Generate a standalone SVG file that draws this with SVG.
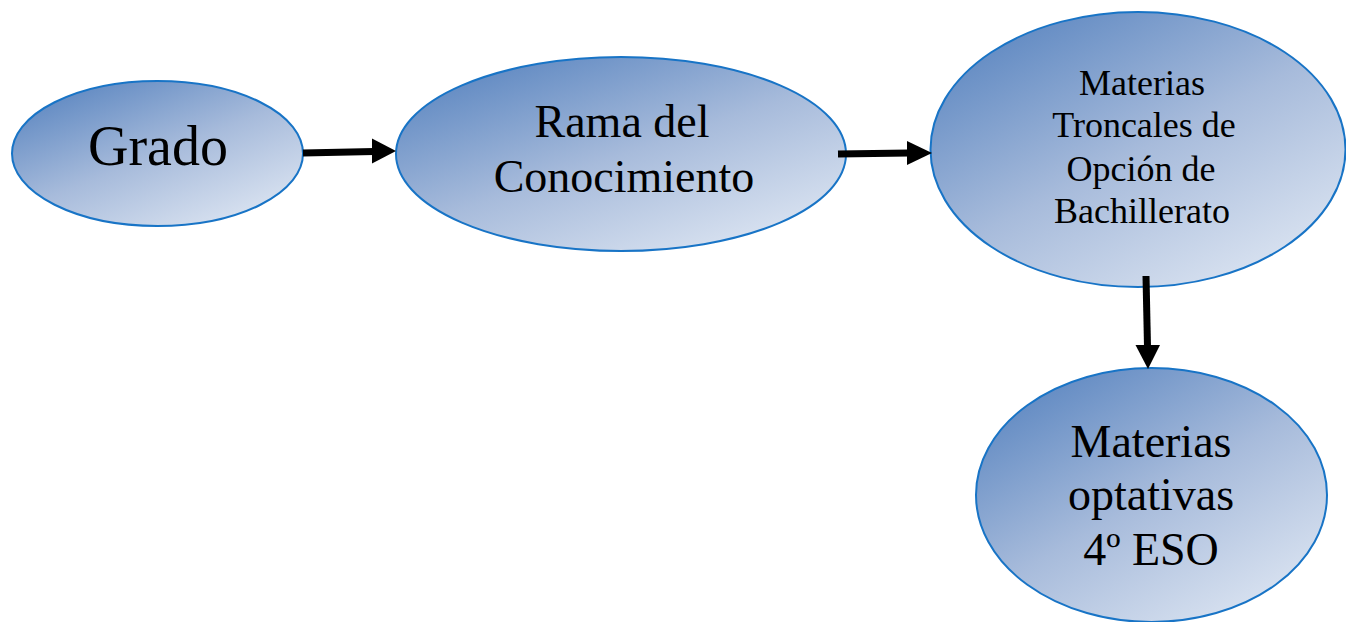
<svg xmlns="http://www.w3.org/2000/svg" width="1346" height="622" viewBox="0 0 1346 622">
  <defs>
    <linearGradient id="fill" x1="0.1" y1="0.05" x2="0.85" y2="1">
      <stop offset="0" stop-color="#5a85c0"/>
      <stop offset="0.5" stop-color="#a7bbdb"/>
      <stop offset="1" stop-color="#dfe7f3"/>
    </linearGradient>
  </defs>
  <style>
    .node { fill: url(#fill); stroke: #1874c6; stroke-width: 2; }
    .lbl { font-family: "Liberation Serif", "Times New Roman", serif; fill: #000; text-anchor: middle; }
    .line { stroke: #000; stroke-width: 7; fill: none; }
    .head { fill: #000; stroke: none; }
  </style>
  <rect width="1346" height="622" fill="#ffffff"/>
  <g id="grado">
    <ellipse class="node" cx="157.5" cy="153.5" rx="145.5" ry="72.5"/>
    <text class="lbl" x="158" y="165" font-size="56">Grado</text>
  </g>
  <g id="rama">
    <ellipse class="node" cx="621" cy="154" rx="225" ry="97"/>
    <text class="lbl" font-size="46"><tspan x="622" y="137">Rama del</tspan><tspan x="624" y="192">Conocimiento</tspan></text>
  </g>
  <g id="troncales">
    <ellipse class="node" cx="1138" cy="149.5" rx="207.5" ry="137.5"/>
    <text class="lbl" font-size="36"><tspan x="1142" y="95">Materias</tspan><tspan x="1144" y="137">Troncales de</tspan><tspan x="1141" y="180.5">Opción de</tspan><tspan x="1142" y="223">Bachillerato</tspan></text>
  </g>
  <g id="optativas">
    <ellipse class="node" cx="1151.5" cy="495" rx="175.5" ry="127"/>
    <text class="lbl" font-size="46"><tspan x="1151" y="457">Materias</tspan><tspan x="1151" y="510">optativas</tspan><tspan x="1151" y="565">4º ESO</tspan></text>
  </g>
  <g id="connectors">
    <line class="line" x1="303" y1="153" x2="374" y2="151.5"/>
    <polygon class="head" points="372,138.5 396,151 372,163.5"/>
    <line class="line" x1="838" y1="154" x2="909" y2="153"/>
    <polygon class="head" points="907,141 932,153 907,165"/>
    <line class="line" x1="1146" y1="276" x2="1147.5" y2="347"/>
    <polygon class="head" points="1135.5,345 1160,345 1148,369"/>
  </g>
</svg>
